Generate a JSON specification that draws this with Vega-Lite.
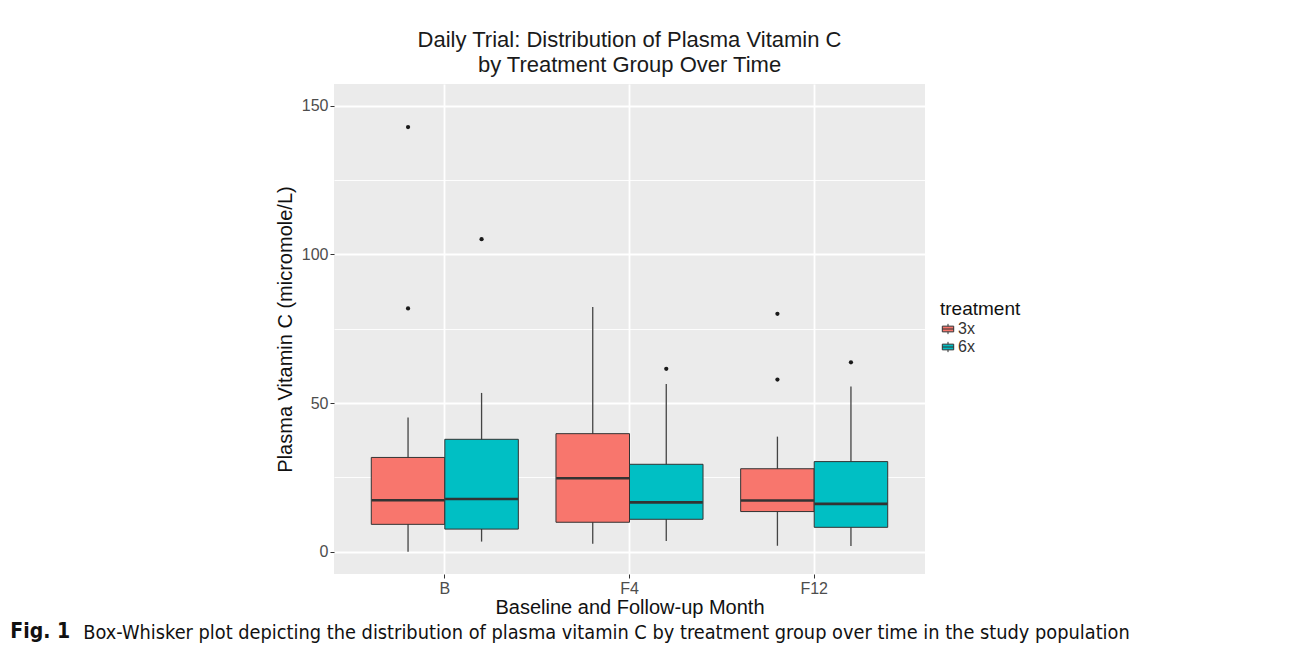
{
  "$schema": "https://vega.github.io/schema/vega-lite/v6.json",
  "autosize": {"type": "pad"},
  "background": "white",
  "padding": {"left": 10, "top": 29, "right": 0, "bottom": 0},
  "config": {
    "font": "Liberation Sans",
    "view": {"fill": "#EBEBEB", "stroke": null}
  },
  "datasets": {
    "boxes": [
      {"time": "B", "treatment": "3x", "low": 0, "q1": 9.2, "median": 17.3, "q3": 31.7, "high": 45.1},
      {"time": "B", "treatment": "6x", "low": 3.4, "q1": 7.6, "median": 17.7, "q3": 37.8, "high": 53.4},
      {"time": "F4", "treatment": "3x", "low": 2.7, "q1": 9.9, "median": 24.7, "q3": 39.7, "high": 82.3},
      {"time": "F4", "treatment": "6x", "low": 3.6, "q1": 10.9, "median": 16.6, "q3": 29.4, "high": 56.4},
      {"time": "F12", "treatment": "3x", "low": 2.0, "q1": 13.5, "median": 17.2, "q3": 27.9, "high": 38.7},
      {"time": "F12", "treatment": "6x", "low": 1.9, "q1": 8.2, "median": 16.1, "q3": 30.3, "high": 55.6}
    ],
    "outliers": [
      {"time": "B", "treatment": "3x", "value": 142.8},
      {"time": "B", "treatment": "3x", "value": 81.8},
      {"time": "B", "treatment": "6x", "value": 105.1},
      {"time": "F4", "treatment": "6x", "value": 61.5},
      {"time": "F12", "treatment": "3x", "value": 80.0},
      {"time": "F12", "treatment": "3x", "value": 57.9},
      {"time": "F12", "treatment": "6x", "value": 63.7}
    ]
  },
  "title": {
    "text": "Box-Whisker plot depicting the distribution of plasma vitamin C by treatment group over time in the study population",
    "orient": "bottom",
    "anchor": "start",
    "font": "DejaVu Sans Condensed, Liberation Sans, sans-serif",
    "fontSize": 19.8,
    "fontWeight": "normal",
    "color": "#111111",
    "offset": 0,
    "dx": 73,
    "dy": -19
  },
  "vconcat": [
    {
      "title": {
        "text": "Fig. 1",
        "orient": "bottom",
        "anchor": "start",
        "font": "DejaVu Sans Condensed, Liberation Sans, sans-serif",
        "fontSize": 21,
        "fontWeight": "bold",
        "color": "#111111",
        "offset": 4,
        "dx": -265
      },
      "vconcat": [
        {
          "width": 591,
          "height": 490,
          "title": {
            "text": ["Daily Trial: Distribution of Plasma Vitamin C", "by Treatment Group Over Time"],
            "fontSize": 22,
            "fontWeight": "normal",
            "color": "#1a1a1a",
            "anchor": "middle",
            "lineHeight": 25,
            "offset": 7
          },
          "encoding": {
            "x": {
              "field": "time",
              "type": "nominal",
              "sort": ["B", "F4", "F12"],
              "scale": {"domain": ["B", "F4", "F12"], "paddingInner": 0, "paddingOuter": 0.1},
              "axis": {
                "title": "Baseline and Follow-up Month",
                "titleFontSize": 20,
                "titleFontWeight": "normal",
                "titleColor": "#111111",
                "titlePadding": 1,
                "labelAngle": 0,
                "labelFontSize": 16,
                "labelColor": "#4d4d4d",
                "labelPadding": 2,
                "tickColor": "#333333",
                "tickSize": 4,
                "tickWidth": 1,
                "bandPosition": 0.5,
                "domain": false,
                "grid": true,
                "gridColor": "white",
                "gridWidth": 1.8
              }
            },
            "xOffset": {
              "field": "treatment",
              "type": "nominal",
              "scale": {"domain": ["3x", "6x"], "paddingInner": 0, "paddingOuter": 0.256}
            }
          },
          "layer": [
            {
              "data": {"name": "boxes"},
              "mark": {"type": "rule", "color": "#444444", "strokeWidth": 1.3},
              "encoding": {
                "y": {
                  "field": "low",
                  "type": "quantitative",
                  "title": "Plasma Vitamin C (micromole/L)",
                  "scale": {"domain": [-7.5, 157.3], "nice": false, "zero": false},
                  "axis": {
                    "values": [0, 25, 50, 75, 100, 125, 150],
                    "labelExpr": "datum.value % 50 === 0 ? datum.label : ''",
                    "titleFontSize": 20,
                    "titleFontWeight": "normal",
                    "titleColor": "#111111",
                    "titlePadding": 6,
                    "labelFontSize": 16,
                    "labelColor": "#4d4d4d",
                    "labelPadding": 2,
                    "tickColor": "#333333",
                    "tickSize": 4,
                    "tickOpacity": {"condition": {"test": "datum.value % 50 !== 0", "value": 0}, "value": 1},
                    "domain": false,
                    "grid": true,
                    "gridColor": "white",
                    "gridWidth": {"condition": {"test": "datum.value % 50 !== 0", "value": 0.9}, "value": 1.8}
                  }
                },
                "y2": {"field": "high"}
              }
            },
            {
              "data": {"name": "boxes"},
              "mark": {"type": "bar", "stroke": "#333333", "strokeWidth": 1},
              "encoding": {
                "y": {"field": "q1", "type": "quantitative", "title": "Plasma Vitamin C (micromole/L)"},
                "y2": {"field": "q3"},
                "color": {
                  "field": "treatment",
                  "type": "nominal",
                  "scale": {"domain": ["3x", "6x"], "range": ["#F8766D", "#00BFC4"]},
                  "legend": {
                    "title": "treatment",
                    "orient": "none",
                    "legendX": 606,
                    "legendY": 216,
                    "titleFontSize": 19,
                    "titleFontWeight": "normal",
                    "titleColor": "#111111",
                    "titlePadding": 2,
                    "labelFontSize": 16,
                    "labelColor": "#333333",
                    "labelOffset": 2,
                    "rowPadding": 2,
                    "symbolType": "M-1,-0.5H1V0.5H-1Z M-1,0H1 M0,-0.5V-0.9 M0,0.5V0.9",
                    "symbolSize": 130,
                    "symbolStrokeColor": "#333333",
                    "symbolStrokeWidth": 1,
                    "symbolOpacity": 1
                  }
                }
              }
            },
            {
              "data": {"name": "boxes"},
              "mark": {"type": "tick", "color": "#333333", "thickness": 2.6, "size": 73, "orient": "horizontal", "opacity": 1},
              "encoding": {
                "y": {"field": "median", "type": "quantitative", "title": "Plasma Vitamin C (micromole/L)"}
              }
            },
            {
              "data": {"name": "outliers"},
              "mark": {"type": "circle", "color": "#1a1a1a", "size": 18, "opacity": 1},
              "encoding": {
                "y": {"field": "value", "type": "quantitative", "title": "Plasma Vitamin C (micromole/L)"}
              }
            }
          ]
        }
      ]
    }
  ]
}
